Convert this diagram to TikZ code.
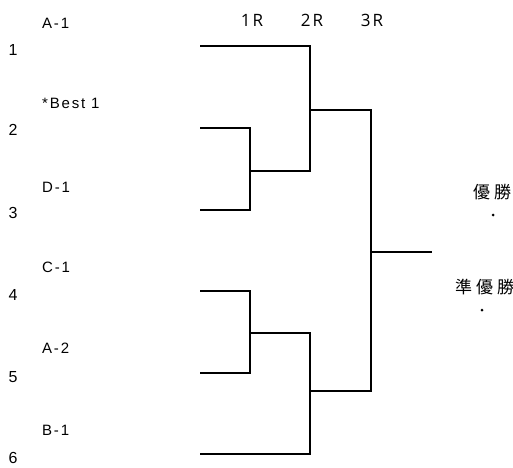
\documentclass[tikz,border=0pt]{standalone}
\usepackage{fontspec}
\setmainfont{Liberation Sans}
\newfontfamily\labfont[LetterSpace=12]{Liberation Sans}
\newfontfamily\rfont[LetterSpace=12]{Open Sans}
\newfontfamily\cjk{Noto Sans CJK JP}
\begin{document}
\begin{tikzpicture}[x=1pt,y=-1pt,
  num/.style={inner sep=0pt,font=\fontsize{16}{16}\selectfont},
  lab/.style={inner sep=0pt,anchor=west,font=\labfont\fontsize{15}{15}\selectfont},
  rnd/.style={inner sep=0pt,font=\rfont\fontsize{17}{17}\selectfont},
  jp/.style={inner sep=0pt,anchor=west,font=\cjk\fontsize{17}{17}\selectfont},
  dotmark/.style={circle,fill=black,inner sep=0pt,minimum size=3pt},
  wide/.style={line width=2pt,line cap=rect},
  narrow/.style={line width=1.4pt}]
\useasboundingbox (0,0) rectangle (513,467);
% seed numbers
\node[num] (n1) at (13,50) {1};
\node[num] (n2) at (13,130) {2};
\node[num] (n3) at (13,213) {3};
\node[num] (n4) at (13,295) {4};
\node[num] (n5) at (13,377) {5};
\node[num] (n6) at (13,458) {6};
% team labels
\node[lab] (t1) at (42,23) {A-1};
\node[lab] (t2) at (42,103) {*Best 1};
\node[lab] (t3) at (42,187) {D-1};
\node[lab] (t4) at (42,267) {C-1};
\node[lab] (t5) at (42,348) {A-2};
\node[lab] (t6) at (42,430) {B-1};
% round labels
\node[rnd] (r1) at (252,20) {1R};
\node[rnd] (r2) at (312,20) {2R};
\node[rnd] (r3) at (372,20) {3R};
% results
\node[jp] (win) at (473,192) {優\kern4pt勝};
\node[jp] (run) at (455,287) {準\kern4pt優\kern4pt勝};
\node[dotmark] (wd) at (493,215) {};
\node[dotmark] (rd) at (482,310) {};
% bracket coordinates
\coordinate (s1) at (201,46);
\coordinate (s2) at (201,128);
\coordinate (s3) at (201,210);
\coordinate (s4) at (201,291);
\coordinate (s5) at (201,373);
\coordinate (s6) at (201,454);
\coordinate (a1) at (250,171);
\coordinate (a2) at (310,110);
\coordinate (a3) at (250,333);
\coordinate (a4) at (310,391);
\coordinate (b1) at (310,171);
\coordinate (b2) at (371,110);
\coordinate (b3) at (310,333);
\coordinate (b4) at (371,391);
\coordinate (fin) at (371,252);
\coordinate (champ) at (432,252);
% first round
\draw[wide] (s2) -| (a1) |- (s3);
\draw[wide] (s4) -| (a3) |- (s5);
% second round
\draw[wide] (s1) -| (b1);
\draw[wide] (s6) -| (b3);
\draw[narrow] (a1) -- (b1);
\draw[narrow] (a3) -- (b3);
% third round
\draw[narrow] (a2) -- (b2);
\draw[narrow] (a4) -- (b4);
\draw[wide] (b2) -- (b4);
\draw[narrow] (fin) -- (champ);
\end{tikzpicture}
\end{document}
